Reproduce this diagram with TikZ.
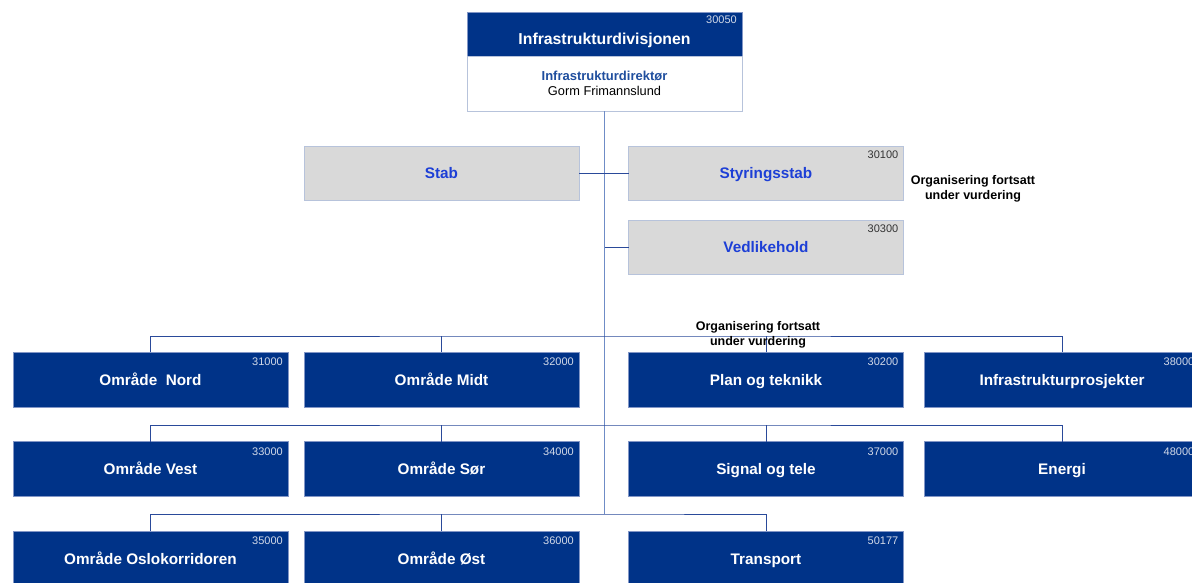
\documentclass[tikz,border=0pt]{standalone}
\usepackage{fontspec}
\setmainfont{Liberation Sans}
\definecolor{navy}{HTML}{003388}
\definecolor{navyedge}{HTML}{8296C6}
\definecolor{staffgrey}{HTML}{D9D9D9}
\definecolor{staffedge}{HTML}{B7C3DB}
\definecolor{stafftext}{HTML}{1D3FD6}
\definecolor{headtext}{HTML}{1F4E9E}
\definecolor{trunkblue}{HTML}{6F8CC6}
\definecolor{branchblue}{HTML}{2A4A9A}
\definecolor{codegrey}{HTML}{D2D9E8}
\begin{document}
\begin{tikzpicture}[x=1pt,y=-1pt,
  unitbox/.style={draw=navyedge, line width=0.6pt, fill=navy, text=white,
    minimum width=275pt, minimum height=55pt, inner sep=0pt, outer sep=0pt,
    text height=11pt, text depth=0pt,
    font=\fontsize{15.3}{18}\selectfont\bfseries},
  staffbox/.style={draw=staffedge, line width=0.6pt, fill=staffgrey, text=stafftext,
    minimum width=275pt, minimum height=54pt, inner sep=0pt, outer sep=0pt,
    text height=11pt, text depth=0pt,
    font=\fontsize{15.3}{18}\selectfont\bfseries},
  codelbl/.style={anchor=north east, inner sep=0pt, text=codegrey,
    font=\fontsize{11}{13}\selectfont},
  staffcode/.style={codelbl, text=black!80},
  notelbl/.style={align=center, inner sep=0pt, text=black,
    font=\fontsize{12.5}{15}\selectfont\bfseries},
  trunk/.style={draw=trunkblue, line width=1.8pt},
  branch/.style={draw=branchblue, line width=0.9pt}]

\useasboundingbox (0,0) rectangle (1192,582);
\clip (0,0) rectangle (1192,582);
\fill[white] (0,0) rectangle (1192,582);

% division head
\node[unitbox, minimum height=44pt] (div) at (604.5,34) {};
\node[inner sep=0pt, text=white, text height=11pt, text depth=0pt,
  font=\fontsize{15.8}{18}\selectfont\bfseries]
  (divtitle) at (604.5,39) {Infrastrukturdivisjonen};
\node[codelbl] (c30050) at ([xshift=-5pt,yshift=-4pt]div.north east) {30050};
\node[draw=staffedge, line width=0.6pt, fill=white, minimum width=275pt,
  minimum height=55pt, inner sep=0pt, outer sep=0pt, align=center,
  font=\fontsize{12.8}{15}\selectfont]
  (dir) at (604.5,83.5)
  {{\color{headtext}\fontsize{13}{15}\selectfont\bfseries Infrastrukturdirektør}\\
   Gorm Frimannslund};

% staff units
\node[staffbox] (stab) at (441.5,173) {Stab};
\node[staffbox] (styr) at (766,173) {Styringsstab};
\node[staffcode] (c30100) at ([xshift=-5pt,yshift=-5pt]styr.north east) {30100};
\node[staffbox] (vedl) at (766,247) {Vedlikehold};
\node[staffcode] (c30300) at ([xshift=-5pt,yshift=-5pt]vedl.north east) {30300};
\node[notelbl] (note1) at (973,189) {Organisering fortsatt\\under vurdering};

% line units
\node[unitbox] (nord)   at (150.5,379.5) {Område~~Nord};
\node[unitbox] (midt)   at (441.5,379.5) {Område Midt};
\node[unitbox] (plan)   at (766,379.5)   {Plan og teknikk};
\node[unitbox] (infra)  at (1062,379.5)  {Infrastrukturprosjekter};
\node[unitbox] (vest)   at (150.5,469)   {Område Vest};
\node[unitbox] (sor)    at (441.5,469)   {Område Sør};
\node[unitbox] (signal) at (766,469)     {Signal og tele};
\node[unitbox] (energi) at (1062,469)    {Energi};
\node[unitbox] (oslo)   at (150.5,558.5) {Område Oslokorridoren};
\node[unitbox] (ost)    at (441.5,558.5) {Område Øst};
\node[unitbox] (transp) at (766,558.5)   {Transport};

\foreach \b/\c in {nord/31000, midt/32000, plan/30200, infra/38000,
                   vest/33000, sor/34000, signal/37000, energi/48000,
                   oslo/35000, ost/36000, transp/50177}
  \node[codelbl] (c\c) at ([xshift=-5pt,yshift=-6pt]\b.north east) {\c};

% reporting lines
\coordinate (bus1) at (604,336);
\coordinate (bus2) at (604,425);
\coordinate (bus3) at (604,514);
\draw[trunk] (dir.south) -- (dir.south |- bus3);
\draw[branch] (stab.east) -- (styr.west);
\draw[branch] (vedl.west) -- (vedl.west -| dir.south);

\draw[branch] (nord.north) |- (bus1) -| (infra.north);
\draw[branch] (midt.north) -- (midt.north |- bus1);
\draw[branch] (plan.north) -- (plan.north |- bus1);
\draw[branch] (vest.north) |- (bus2) -| (energi.north);
\draw[branch] (sor.north) -- (sor.north |- bus2);
\draw[branch] (signal.north) -- (signal.north |- bus2);
\draw[branch] (oslo.north) |- (bus3) -| (transp.north);
\draw[branch] (ost.north) -- (ost.north |- bus3);

\node[notelbl] (note2) at (758,335) {Organisering fortsatt\\under vurdering};
\end{tikzpicture}
\end{document}
